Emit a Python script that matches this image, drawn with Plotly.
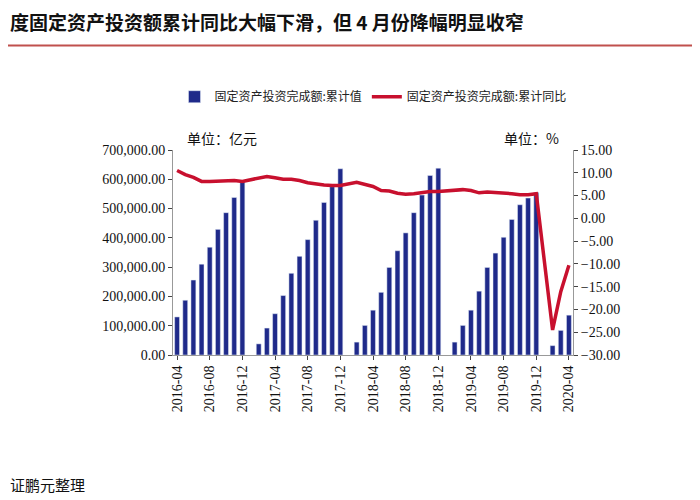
import plotly.graph_objects as go

# months 2016-04 .. 2020-04 (January has no data)
months = []
for y in range(2016, 2021):
    for m in range(1, 13):
        if (y == 2016 and m < 4) or (y == 2020 and m > 4):
            continue
        months.append(f"{y}-{m:02d}")

fai_value = [
    130000, 187000, 256000, 310000, 368000, 429000, 486000, 538000, 592000,
    None, 38000, 92000, 141000, 203000, 279000, 337000, 394000, 460000, 521000, 575000, 636000,
    None, 44000, 101000, 153000, 214000, 299000, 356000, 417000, 486000, 546000, 613000, 638000,
    None, 44000, 101000, 153000, 218000, 299000, 348000, 402000, 463000, 513000, 536000, 555000,
    None, 32000, 84000, 136000,
]
fai_yoy = [
    10.5, 9.6, 9.0, 8.1, 8.1, 8.2, 8.3, 8.3, 8.1,
    None, 8.9, 9.2, 8.9, 8.6, 8.6, 8.3, 7.8, 7.5, 7.3, 7.2, 7.2,
    None, 7.9, 7.5, 7.0, 6.1, 6.0, 5.5, 5.3, 5.4, 5.7, 5.9, 5.9,
    None, 6.1, 6.3, 6.1, 5.6, 5.8, 5.7, 5.5, 5.4, 5.2, 5.2, 5.4,
    None, -24.5, -16.1, -10.3,
]
tick_labels = months[::4]

cjk = "Noto Sans CJK SC"
serif = "Liberation Serif"

fig = go.Figure()
fig.add_trace(go.Bar(x=months, y=fai_value, name="固定资产投资完成额:累计值",
                     marker_color="#1f2a8a"))
fig.add_trace(go.Scatter(x=months, y=fai_yoy, name="固定资产投资完成额:累计同比",
                         yaxis="y2", mode="lines", connectgaps=True,
                         line=dict(color="#c8102e", width=3.5)))

fig.update_layout(
    width=700, height=500, plot_bgcolor="white", paper_bgcolor="white",
    margin=dict(l=165, r=135, t=142, b=153),
    showlegend=True,
    legend=dict(orientation="h", x=0.5, xanchor="center", y=1.26, yanchor="middle",
                font=dict(family=cjk, size=12, color="#222")),
    xaxis=dict(type="category", tickvals=tick_labels, ticktext=tick_labels,
               tickangle=-90, ticks="outside", ticklen=4,
               showline=True, linecolor="#999", showgrid=False,
               tickfont=dict(family=serif, size=14, color="#111")),
    yaxis=dict(range=[0, 700000], dtick=100000, tickformat=",.2f",
               showline=True, linecolor="#999", ticks="outside", ticklen=4,
               showgrid=False, tickfont=dict(family=serif, size=14, color="#111")),
    yaxis2=dict(range=[-30, 15], dtick=5, tickformat=".2f", overlaying="y", side="right",
                showline=True, linecolor="#999", ticks="outside", ticklen=4,
                showgrid=False, zeroline=False,
                tickfont=dict(family=serif, size=14, color="#111")),
    bargap=0.4,
)
fig.add_annotation(text="<b>度固定资产投资额累计同比大幅下滑，但 4 月份降幅明显收窄</b>",
                   xref="paper", yref="paper", x=-165/400, y=1.625, xanchor="left",
                   yanchor="middle", showarrow=False,
                   font=dict(family=cjk, size=19, color="#111"))
fig.add_shape(type="line", xref="paper", yref="paper", x0=-0.5, x1=1.5, y0=1.51, y1=1.51,
              line=dict(color="#c0504d", width=2))
fig.add_annotation(text="单位：亿元", xref="paper", yref="paper", x=0.03, y=1.0,
                   xanchor="left", yanchor="bottom", showarrow=False,
                   font=dict(family=cjk, size=14, color="#111"))
fig.add_annotation(text="单位：%", xref="paper", yref="paper", x=0.97, y=1.0,
                   xanchor="right", yanchor="bottom", showarrow=False,
                   font=dict(family=cjk, size=14, color="#111"))
fig.add_annotation(text="证鹏元整理", xref="paper", yref="paper", x=-165/400, y=-0.63,
                   xanchor="left", yanchor="middle", showarrow=False,
                   font=dict(family=cjk, size=15, color="#111"))

fig.write_html("out.html")
